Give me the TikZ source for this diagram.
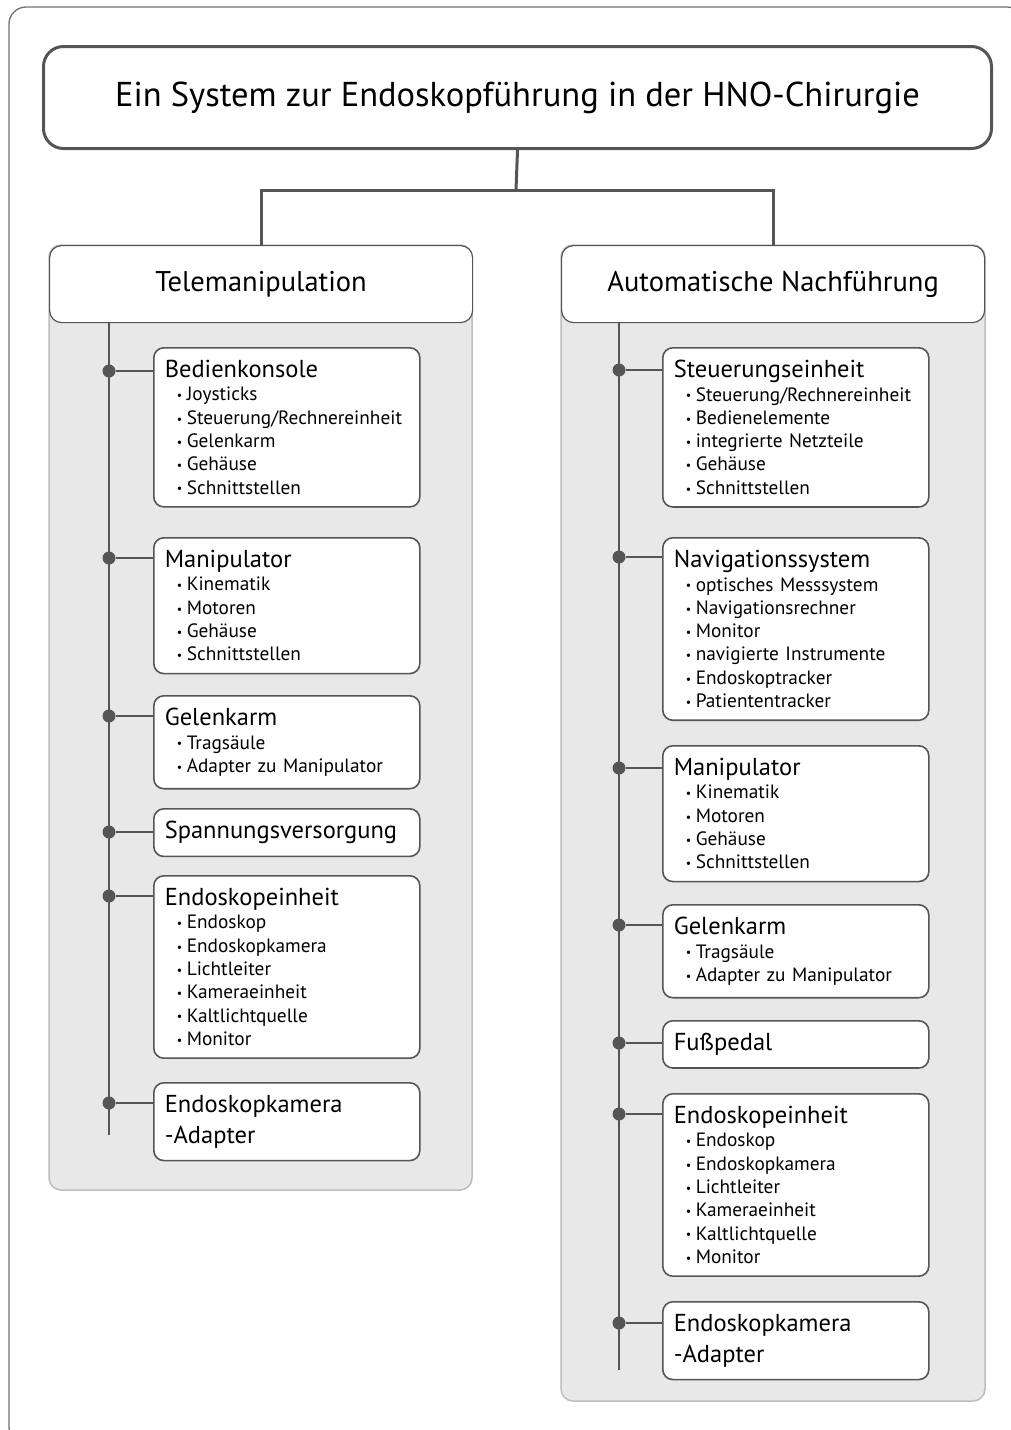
\documentclass[tikz,border=0pt]{standalone}
\usepackage{fontspec}
\setmainfont{PT Sans}
\usepackage{tikz}
\definecolor{HNOLine}{HTML}{555555}
\definecolor{HNOFrame}{HTML}{707070}
\definecolor{HNOPanel}{HTML}{E8E8E8}
\definecolor{HNOPanelEdge}{HTML}{BDBDBD}
\newcommand\titlesize{\fontsize{34.5}{40}\selectfont}
\newcommand\headsize{\fontsize{28.5}{34}\selectfont}
\newcommand\partsize{\fontsize{24.5}{30.7}\selectfont}
\newcommand\subsize{\fontsize{19.3}{23.3}\selectfont}
\newcommand\sub[1]{\\\hspace*{12pt}\makebox[10pt][l]{\raisebox{1.2pt}{\fontsize{12}{0}\selectfont\textbullet}}#1}

\begin{document}
\begin{tikzpicture}[x=1pt,y=-1pt,
  titlebox/.style={draw=HNOLine,line width=3,fill=white,rounded corners=20,
    anchor=north west,minimum width=948,minimum height=102,font=\titlesize},
  headbox/.style={draw=HNOLine,line width=1.2,fill=white,rounded corners=12,
    anchor=north west,minimum width=423,minimum height=77,font=\headsize},
  panel/.style={draw=HNOPanelEdge,line width=1.5,fill=HNOPanel,rounded corners=12},
  partbox/.style={draw=HNOLine,line width=1.6,fill=white,rounded corners=10,
    anchor=north west,text width=244,inner xsep=11,inner ysep=12.5,align=left,font=\subsize},
  trunk/.style={draw=HNOLine,line width=3},
  spine/.style={draw=HNOLine,line width=2},
  dot/.style={circle,fill=HNOLine,inner sep=0,minimum size=13}]
\path[use as bounding box] (0,0) rectangle (1010,1430);
\draw[HNOFrame,line width=1.3,rounded corners=17] (9,7) rectangle (1024,1444);
% title and the two groups
\node[titlebox] (sys) at (42,45) {Ein System zur Endoskopführung in der HNO-Chirurgie};
\draw[panel] (49,245) rectangle (472,1190);
\draw[panel] (561,245) rectangle (985,1401);
\node[headbox] (tele) at (49,245) {Telemanipulation};
\node[headbox] (auto) at (561,245) {Automatische Nachführung};
\coordinate (fork) at (516,190);
\draw[trunk] (sys.south) -- (fork);
\draw[trunk] (tele.north) |- (fork) -| (auto.north);
% Telemanipulation
\coordinate (tend) at (109,1135);
\draw[spine] (tele.south -| tend) -- (tend);
\node[partbox] (tbk) at (153,347) {{\partsize Bedienkonsole}\sub{Joysticks}\sub{Steuerung/Rechnereinheit}\sub{Gelenkarm}\sub{Gehäuse}\sub{Schnittstellen}};
\node[partbox] (tmp) at (153,537) {{\partsize Manipulator}\sub{Kinematik}\sub{Motoren}\sub{Gehäuse}\sub{Schnittstellen}};
\node[partbox] (tga) at (153,695) {{\partsize Gelenkarm}\sub{Tragsäule}\sub{Adapter zu Manipulator}};
\node[partbox] (tsv) at (153,808) {{\partsize Spannungsversorgung}};
\node[partbox] (tee) at (153,875) {{\partsize Endoskopeinheit}\sub{Endoskop}\sub{Endoskopkamera}\sub{Lichtleiter}\sub{Kameraeinheit}\sub{Kaltlichtquelle}\sub{Monitor}};
\node[partbox,font=\partsize] (tad) at (153,1082) {Endoskopkamera\\-Adapter};
\node[dot] (tbkd) at (109,371) {};
\node[dot] (tmpd) at (109,558) {};
\node[dot] (tgad) at (109,716) {};
\node[dot] (tsvd) at (109,832) {};
\node[dot] (teed) at (109,896) {};
\node[dot] (tadd) at (109,1103) {};
\draw[spine] (tbkd) -- (tbkd -| tbk.west);
\draw[spine] (tmpd) -- (tmpd -| tmp.west);
\draw[spine] (tgad) -- (tgad -| tga.west);
\draw[spine] (tsvd) -- (tsvd -| tsv.west);
\draw[spine] (teed) -- (teed -| tee.west);
\draw[spine] (tadd) -- (tadd -| tad.west);
% Automatische Nachfuehrung
\coordinate (aend) at (619,1370);
\draw[spine] (auto.south -| aend) -- (aend);
\node[partbox] (ase) at (662,347) {{\partsize Steuerungseinheit}\sub{Steuerung/Rechnereinheit}\sub{Bedienelemente}\sub{integrierte Netzteile}\sub{Gehäuse}\sub{Schnittstellen}};
\node[partbox] (ans) at (662,537) {{\partsize Navigationssystem}\sub{optisches Messsystem}\sub{Navigationsrechner}\sub{Monitor}\sub{navigierte Instrumente}\sub{Endoskoptracker}\sub{Patiententracker}};
\node[partbox] (amp) at (662,745) {{\partsize Manipulator}\sub{Kinematik}\sub{Motoren}\sub{Gehäuse}\sub{Schnittstellen}};
\node[partbox] (aga) at (662,904) {{\partsize Gelenkarm}\sub{Tragsäule}\sub{Adapter zu Manipulator}};
\node[partbox] (afp) at (662,1020) {{\partsize Fußpedal}};
\node[partbox] (aee) at (662,1093) {{\partsize Endoskopeinheit}\sub{Endoskop}\sub{Endoskopkamera}\sub{Lichtleiter}\sub{Kameraeinheit}\sub{Kaltlichtquelle}\sub{Monitor}};
\node[partbox,font=\partsize] (aad) at (662,1301) {Endoskopkamera\\-Adapter};
\node[dot] (ased) at (619,370) {};
\node[dot] (ansd) at (619,557) {};
\node[dot] (ampd) at (619,768) {};
\node[dot] (agad) at (619,925) {};
\node[dot] (afpd) at (619,1043) {};
\node[dot] (aeed) at (619,1114) {};
\node[dot] (aadd) at (619,1323) {};
\draw[spine] (ased) -- (ased -| ase.west);
\draw[spine] (ansd) -- (ansd -| ans.west);
\draw[spine] (ampd) -- (ampd -| amp.west);
\draw[spine] (agad) -- (agad -| aga.west);
\draw[spine] (afpd) -- (afpd -| afp.west);
\draw[spine] (aeed) -- (aeed -| aee.west);
\draw[spine] (aadd) -- (aadd -| aad.west);
\end{tikzpicture}
\end{document}
